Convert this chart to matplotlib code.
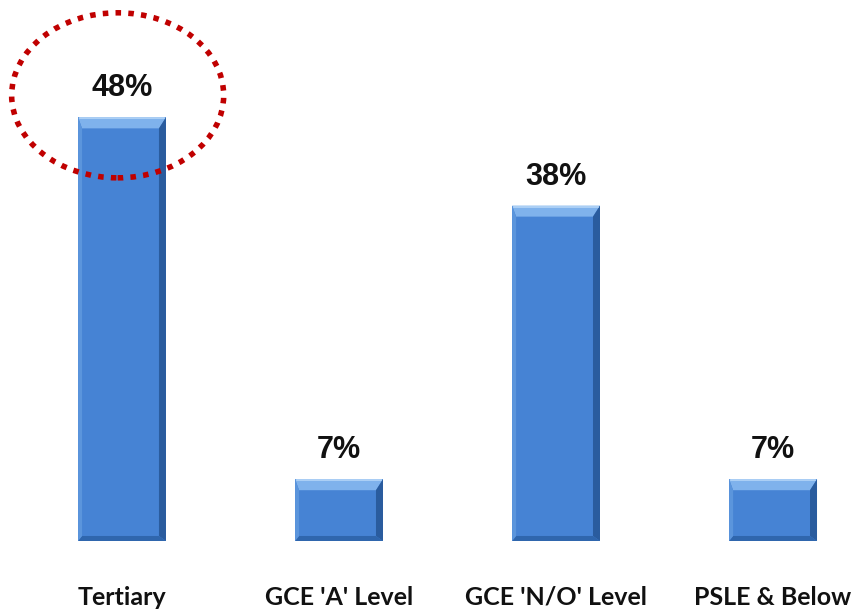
import matplotlib.pyplot as plt
from matplotlib.patches import Polygon, Ellipse
import numpy as np

categories = ["Tertiary", "GCE 'A' Level", "GCE 'N/O' Level", "PSLE & Below"]
values = [48, 7, 38, 7]
labels = ['48%', '7%', '38%', '7%']

fig = plt.figure(figsize=(8.64, 6.11), dpi=100)
ax = fig.add_axes([0, 0.1146, 1, 0.8854])
ax.set_xlim(-0.5622, 3.419)
ax.set_ylim(0, 61.3)
for s in ax.spines.values():
    s.set_visible(False)
ax.set_yticks([])
ax.set_xticks([])

x = np.arange(len(values))
bars = ax.bar(x, values, width=0.405, color='#4683d4', edgecolor='none', zorder=2)

# bevel effect drawn in pixel units
fig.canvas.draw()
inv = ax.transData.inverted()
for b in bars:
    x0, y0 = b.get_x(), b.get_y()
    x1, y1 = x0 + b.get_width(), y0 + b.get_height()
    (px0, py0), (px1, py1) = ax.transData.transform([(x0, y0), (x1, y1)])
    t, r, bt, l = 11, 7, 5, 4
    faces = [
        ([(px0, py1), (px1, py1), (px1 - r, py1 - t), (px0 + l, py1 - t)], '#7fb2ec'),
        ([(px1, py1), (px1, py0), (px1 - r, py0 + bt), (px1 - r, py1 - t)], '#2a5c9e'),
        ([(px0, py0), (px1, py0), (px1 - r, py0 + bt), (px0 + l, py0 + bt)], '#2f66ad'),
        ([(px0, py1), (px0, py0), (px0 + l, py0 + bt), (px0 + l, py1 - t)], '#5b95dc'),
    ]
    for pts, col in faces:
        ax.add_patch(Polygon(inv.transform(pts), closed=True, facecolor=col,
                             edgecolor='none', zorder=3))
    # thin highlight line along top bevel
    hl = inv.transform([(px0 + 2, py1 - 1), (px1 - 2, py1 - 1)])
    ax.plot(hl[:, 0], hl[:, 1], color='#b5d5f7', lw=1.2, zorder=4)

for xi, v, lab in zip(x, values, labels):
    ax.annotate(lab, (xi, v), xytext=(0, 10), textcoords='offset points',
                ha='center', va='bottom', fontsize=22, fontweight='bold',
                family='Liberation Sans', color='#111111')

for xi, c in zip(x, categories):
    ax.text(xi, -6.4, c, ha='center', va='center', fontsize=18,
            fontweight='bold', family='Lato', color='#111111', clip_on=False)

ell = Ellipse((x[0] - 0.02, 50.5), 0.977, 18.7, fill=False, edgecolor='#c00000',
              lw=4, linestyle=(0, (1, 1.3)), zorder=5)
ax.add_patch(ell)

fig.savefig('out.png', dpi=100)
